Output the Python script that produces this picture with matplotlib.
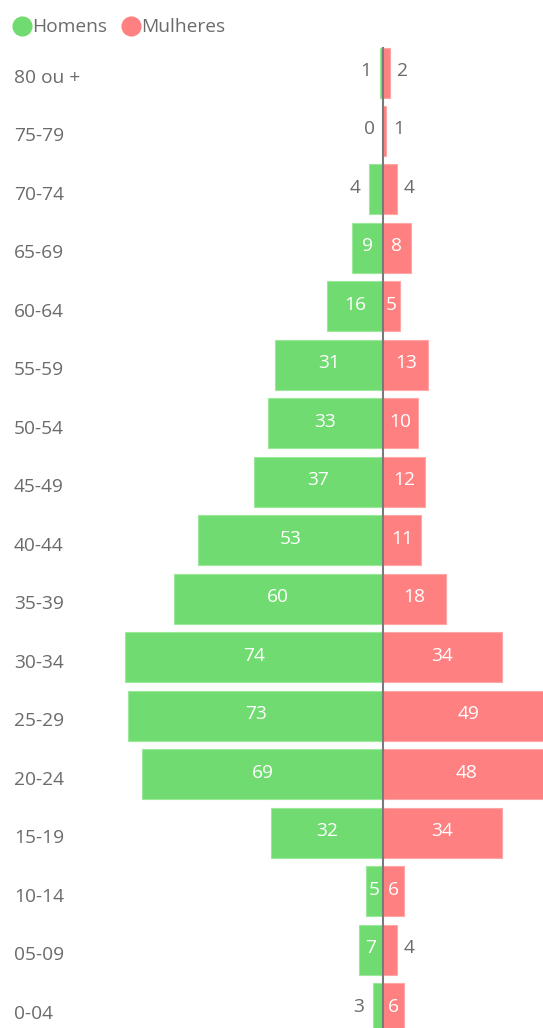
import matplotlib.pyplot as plt
import numpy as np
from matplotlib.lines import Line2D

plt.rcParams['font.family'] = ['Open Sans', 'DejaVu Sans']

faixas = ['80 ou +', '75-79', '70-74', '65-69', '60-64', '55-59', '50-54', '45-49',
          '40-44', '35-39', '30-34', '25-29', '20-24', '15-19', '10-14', '05-09', '0-04']
homens = [1, 0, 4, 9, 16, 31, 33, 37, 53, 60, 74, 73, 69, 32, 5, 7, 3]
mulheres = [2, 1, 4, 8, 5, 13, 10, 12, 11, 18, 34, 49, 48, 34, 6, 4, 6]

verde = '#70db70'
vermelho = '#ff8080'
cinza = '#6b6b6b'

W, H = 543, 1028
fig = plt.figure(figsize=(W / 100, H / 100), dpi=100)
ax = fig.add_axes([0, 0, 1, 1])

# escala: ~3.49 px por pessoa, eixo central em x=383 px
px = 3.49
ax.set_xlim(-383 / px, (W - 383) / px)
# linhas: centro da primeira em y=72.5 px, passo de 58.47 px
passo = 58.47
topo = 72.5
ax.set_ylim((H - topo) / passo, -topo / passo)
ax.axis('off')

y = np.arange(len(faixas))
alt = 50 / passo
ax.barh(y, -np.array(homens), height=alt, color=verde, edgecolor='#9be89b', linewidth=0.8)
ax.barh(y, mulheres, height=alt, color=vermelho, edgecolor='#ffa6a6', linewidth=0.8)

ax.plot([0, 0], [-alt / 2, len(faixas) + 1], color='#7a7a7a', lw=1.5, zorder=5)

fs = 13.8
dy = -1.5 / passo
for i, (h, m) in enumerate(zip(homens, mulheres)):
    if h >= 5:
        ax.text(-h / 2, i + dy, str(h), color='white', ha='center', va='center', fontsize=fs, zorder=6)
    else:
        ax.annotate(str(h), (-h, i + dy), xytext=(-6, 0), textcoords='offset points',
                    color=cinza, ha='right', va='center', fontsize=fs)
    if m >= 5:
        ax.text(m / 2, i + dy, str(m), color='white', ha='center', va='center', fontsize=fs, zorder=6)
    else:
        ax.annotate(str(m), (m, i + dy), xytext=(5, 0), textcoords='offset points',
                    color=cinza, ha='left', va='center', fontsize=fs)

# rótulos das faixas etárias, um pouco abaixo do centro das barras
for i, f in enumerate(faixas):
    ax.text(14 / W, i + 5.5 / passo, f, transform=ax.get_yaxis_transform(), color=cinza,
            ha='left', va='center', fontsize=fs)

handles = [Line2D([], [], marker='o', ls='', color=verde, markersize=13.5),
           Line2D([], [], marker='o', ls='', color=vermelho, markersize=13.5)]
fig.legend(handles, ['Homens', 'Mulheres'], loc='upper left', bbox_to_anchor=(-0.007, 0.996),
           ncol=2, frameon=False, fontsize=fs, labelcolor=cinza, handletextpad=-0.05,
           columnspacing=0.6, borderaxespad=0.35, handlelength=1.2)

fig.savefig('out.png', dpi=100)
